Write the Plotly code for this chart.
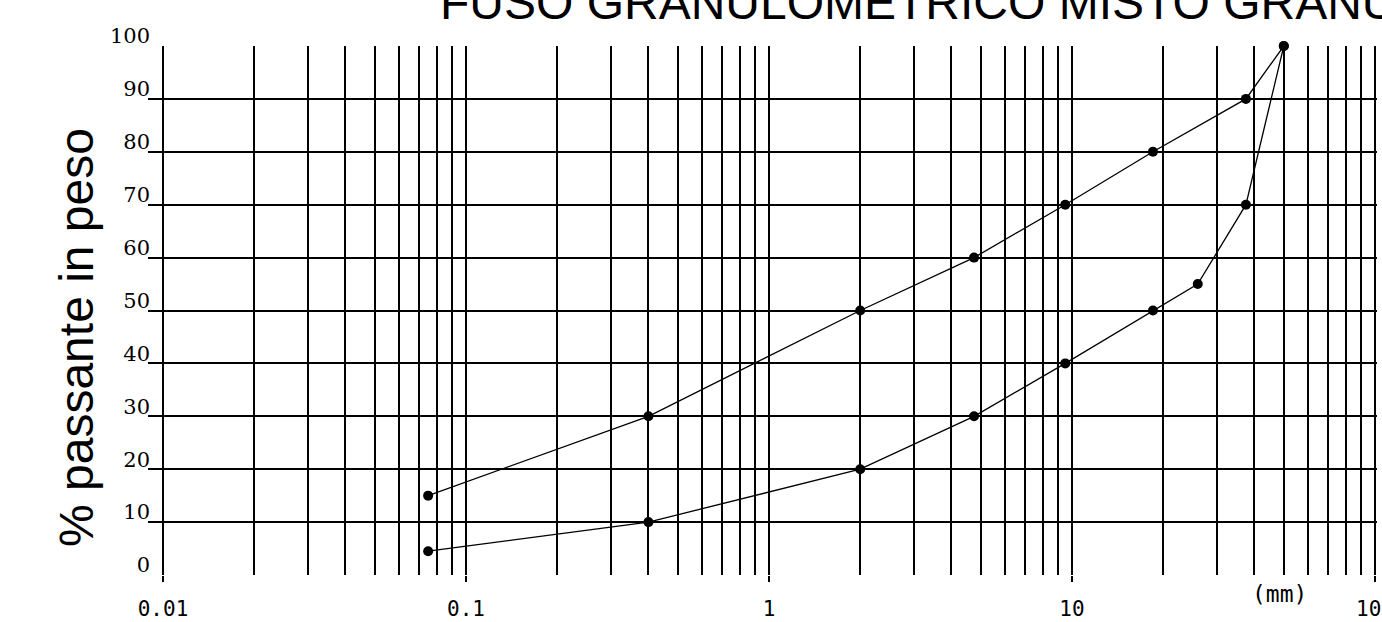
import math
import plotly.graph_objects as go

# ---- data ----
upper_d = [0.075, 0.4, 2, 4.75, 9.5, 18.5, 37.5, 50]
upper_p = [15, 30, 50, 60, 70, 80, 90, 100]
lower_d = [0.075, 0.4, 2, 4.75, 9.5, 18.5, 26, 37.5, 50]
lower_p = [4.5, 10, 20, 30, 40, 50, 55, 70, 100]

x_major = [0.01, 0.1, 1, 10, 100]
x_major_text = ["0.01", "0.1", "1", "10", "100"]
x_minor = [m * d for d in [0.01, 0.1, 1, 10] for m in range(2, 10)]
y_ticks = list(range(0, 101, 10))

title_text = "FUSO GRANULOMETRICO MISTO GRANULARE"
y_title = "% passante in peso"
unit_text = "(mm)"

W, H = 1382, 622
PX_DEC = 303.0
ML, MR, MT, MB = 148, 5, 46, 47
pw = W - ML - MR
ph = H - MT - MB
x_lo = math.log10(0.01) - 15 / PX_DEC
x_hi = x_lo + pw / PX_DEC

line_style = dict(color="black", width=1.3)
marker_style = dict(color="black", size=10, symbol="circle")

fig = go.Figure()
fig.add_trace(go.Scatter(x=upper_d, y=upper_p, mode="lines+markers",
                         line=line_style, marker=marker_style,
                         cliponaxis=False, showlegend=False))
fig.add_trace(go.Scatter(x=lower_d, y=lower_p, mode="lines+markers",
                         line=line_style, marker=marker_style,
                         cliponaxis=False, showlegend=False))

fig.update_layout(
    width=W, height=H,
    margin=dict(l=ML, r=MR, t=MT, b=MB, pad=0, autoexpand=False),
    paper_bgcolor="white", plot_bgcolor="white",
    showlegend=False,
    title=dict(text=title_text, x=440 / W, xanchor="left",
               y=1 - 19 / H, yanchor="bottom", automargin=False,
               font=dict(family="Liberation Sans, Arial", size=48, color="black")),
)

fig.update_xaxes(
    type="log", range=[x_lo, x_hi], automargin=False,
    tickmode="array", tickvals=x_major, ticktext=x_major_text,
    ticks="outside", ticklen=6, tickwidth=1.6, tickcolor="black",
    showgrid=True, gridcolor="black", gridwidth=1.6,
    zeroline=False, showline=False,
    ticklabelstandoff=9, ticklabeloverflow="allow",
    tickfont=dict(family="DejaVu Sans Mono", size=21, color="black"),
    minor=dict(tickmode="array", tickvals=x_minor, showgrid=True,
               gridcolor="black", gridwidth=1.6, ticks=""),
)
fig.update_yaxes(
    range=[0, 100], tickmode="array", tickvals=y_ticks, automargin=False,
    ticks="", showgrid=True, gridcolor="black", gridwidth=1.6,
    zeroline=False, showline=False,
    ticklabelshift=-10, ticklabelstandoff=-3, ticklabeloverflow="allow",
    tickfont=dict(family="DejaVu Serif", size=21, color="black"),
)

fig.add_annotation(text=y_title, xref="paper", yref="paper",
                   x=(77 - ML) / pw, y=(H - MB - 338) / ph,
                   xanchor="center", yanchor="middle", textangle=-90,
                   showarrow=False,
                   font=dict(family="Liberation Sans, Arial", size=48, color="black"))
fig.add_annotation(text=unit_text, xref="paper", yref="paper",
                   x=(1279 - ML) / pw, y=0, yanchor="top", yshift=-4,
                   xanchor="center", showarrow=False,
                   font=dict(family="DejaVu Sans Mono", size=23, color="black"))

fig.write_html("out.html", config={"displayModeBar": False},
               post_script="document.body.style.margin='0';document.body.style.padding='0';")
